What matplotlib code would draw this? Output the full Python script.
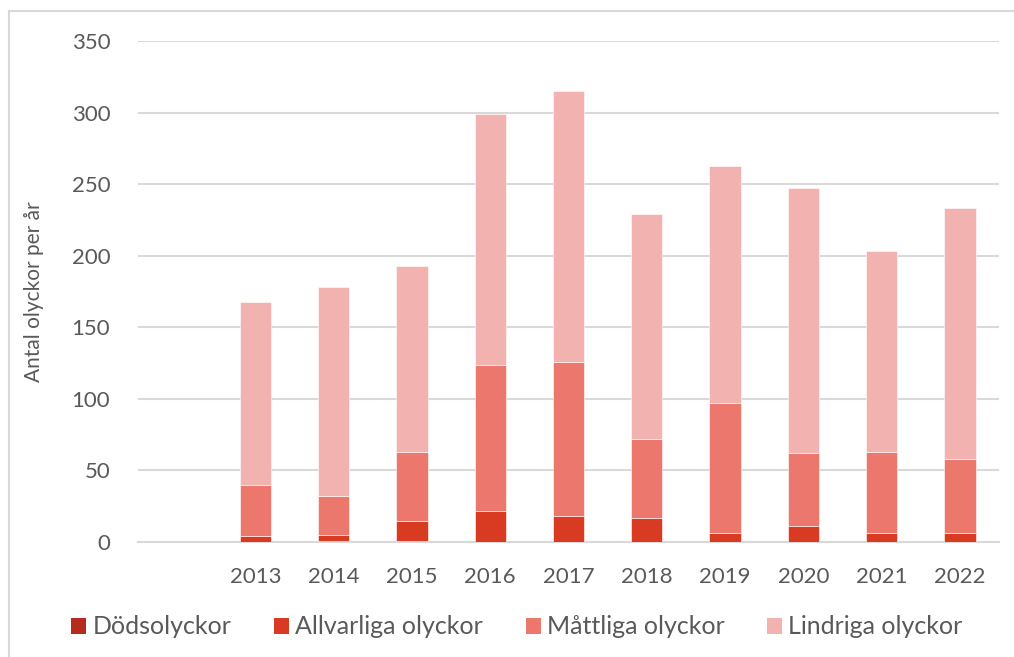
import matplotlib
matplotlib.use("Agg")
import matplotlib.pyplot as plt
from matplotlib.lines import Line2D
from matplotlib.patches import Patch
import numpy as np

# Accident counts per year by severity
years = ["", "2013", "2014", "2015", "2016", "2017", "2018", "2019", "2020", "2021", "2022"]
dodsolyckor = [0, 0, 1, 1, 0, 0, 0, 0, 0, 0, 0]
allvarliga = [0, 4, 4, 14, 22, 18, 17, 6, 11, 6, 6]
mattliga = [0, 36, 27, 48, 102, 108, 55, 91, 51, 57, 52]
lindriga = [0, 128, 146, 130, 175, 189, 157, 166, 185, 140, 175]

series_names = ["Dödsolyckor", "Allvarliga olyckor", "Måttliga olyckor", "Lindriga olyckor"]
colors = ["#B52C1E", "#D93A22", "#EC776D", "#F2B3B0"]
yticks = [0, 50, 100, 150, 200, 250, 300, 350]

plt.rcParams["font.family"] = ["Lato", "DejaVu Sans"]
plt.rcParams["font.weight"] = "normal"
text_color = "#595959"
grid_color = "#D9D9D9"

W, H = 1014, 657
fig = plt.figure(figsize=(W / 100, H / 100), dpi=100)
ax = fig.add_axes([138 / W, 1 - 542 / H, (999 - 138) / W, (542 - 41) / H])

x = np.arange(len(years))
bottom = np.zeros(len(years))
for vals, col in zip([dodsolyckor, allvarliga, mattliga, lindriga], colors):
    ax.bar(x, vals, width=0.4, bottom=bottom, color=col,
           edgecolor="#FFFFFF", linewidth=0.4, zorder=3)
    bottom += np.array(vals)

ax.set_xlim(-0.5, len(years) - 0.5)
ax.set_ylim(0, 350)
ax.set_yticks(yticks)
ax.set_xticks(x[1:])
ax.set_xticklabels(years[1:])
ax.yaxis.grid(True, color=grid_color, linewidth=1.5, zorder=0)
ax.set_axisbelow(True)
for s in ["top", "right", "left"]:
    ax.spines[s].set_visible(False)
ax.spines["bottom"].set_color(grid_color)
ax.spines["bottom"].set_linewidth(1.5)
ax.tick_params(axis="both", length=0, labelsize=16, colors=text_color)
ax.tick_params(axis="y", pad=20)
ax.tick_params(axis="x", pad=18)
ax.set_ylabel("Antal olyckor per år", fontsize=15, fontweight="normal",
              color=text_color, labelpad=20)

handles = [Patch(facecolor=c, edgecolor="none") for c in colors]
fig.legend(handles, series_names, loc="center", bbox_to_anchor=(517 / W, 1 - 627 / H),
           ncol=4, frameon=False, fontsize=18, labelcolor=text_color,
           handlelength=0.6, handleheight=0.6, handletextpad=0.25, columnspacing=1.7)

# Outer frame (left and top edges)
fig.add_artist(Line2D([9 / W, 9 / W], [0, 1 - 11 / H], transform=fig.transFigure,
                      color="#D9D9D9", linewidth=1.5))
fig.add_artist(Line2D([9 / W, 1], [1 - 11 / H, 1 - 11 / H], transform=fig.transFigure,
                      color="#D9D9D9", linewidth=1.5))

fig.savefig("out.png", dpi=100, facecolor="white")
